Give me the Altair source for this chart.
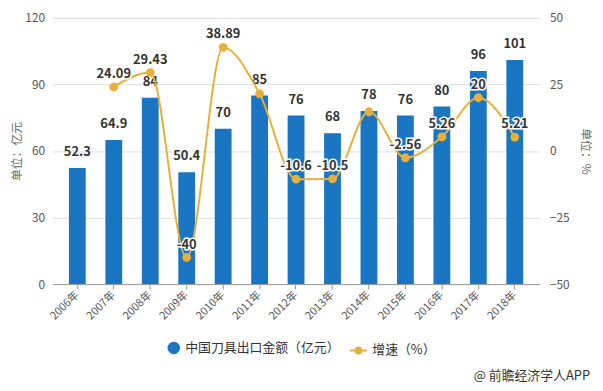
import altair as alt
import pandas as pd

years = ["2006年", "2007年", "2008年", "2009年", "2010年", "2011年", "2012年",
         "2013年", "2014年", "2015年", "2016年", "2017年", "2018年"]
export_value = [52.3, 64.9, 84, 50.4, 70, 85, 76, 68, 78, 76, 80, 96, 101]
bar_labels = ["52.3", "64.9", "84", "50.4", "70", "85", "76", "68", "78", "76", "80", "96", "101"]
growth = [None, 24.09, 29.43, -40, 38.89, 21.43, -10.6, -10.5, 14.71, -2.56, 5.26, 20, 5.21]
growth_labels = ["", "24.09", "29.43", "-40", "38.89", "", "-10.6", "-10.5", "", "-2.56", "5.26", "20", "5.21"]

BAR_NAME = "中国刀具出口金额（亿元）"
LINE_NAME = "增速（%）"
BLUE = "#1a75c2"
GOLD = "#e6b03a"
FONT = "Noto Sans CJK SC"

df = pd.DataFrame({
    "year": years,
    "value": export_value,
    "bar_label": bar_labels,
    "growth": growth,
    "growth_label": growth_labels,
})
df["bar_series"] = BAR_NAME
df["line_series"] = LINE_NAME

x_enc = alt.X("year:N", sort=years, title=None,
              scale=alt.Scale(paddingInner=0.54, paddingOuter=0.45),
              axis=alt.Axis(labelAngle=-45, labelAlign="right", labelBaseline="middle",
                            labelFontSize=11, labelColor="#555", labelPadding=4,
                            domainColor="#999", tickColor="#999", tickSize=5,
                            grid=False))

y_left = alt.Y("value:Q", title="单位：亿元",
               scale=alt.Scale(domain=[0, 120], nice=False),
               axis=alt.Axis(values=[0, 30, 60, 90, 120], domain=False, ticks=False,
                             labelPadding=8, labelFontSize=12, labelColor="#555",
                             titleColor="#666", titleFontSize=12, titleFontWeight="normal",
                             titlePadding=1, grid=True, gridColor="#dddddd"))

base = alt.Chart(df)

bars = base.mark_bar(width=17).encode(
    x=x_enc,
    y=y_left,
    color=alt.Color("bar_series:N", title=None,
                    scale=alt.Scale(domain=[BAR_NAME], range=[BLUE]),
                    legend=alt.Legend(orient="none", legendX=115, legendY=326,
                                      symbolType="circle", symbolSize=160,
                                      labelFontSize=13, labelColor="#333",
                                      labelFont=FONT, padding=0)),
)

bar_text = base.mark_text(dy=-9, fontSize=13, fontWeight="bold", color="#333",
                          font=FONT, baseline="bottom").encode(
    x=alt.X("year:N", sort=years),
    y=alt.Y("value:Q"),
    text="bar_label:N",
)

left = alt.layer(bars, bar_text)

y_right = alt.Y("growth:Q", title="单位：%",
                scale=alt.Scale(domain=[-50, 50], nice=False),
                axis=alt.Axis(orient="right", values=[-50, -25, 0, 25, 50], domain=False,
                              ticks=False, grid=False, labelPadding=10, labelFontSize=12,
                              labelColor="#555", titleColor="#666", titleFontSize=12,
                              titleFontWeight="normal", titlePadding=9))

line_data = base.transform_filter("datum.growth != null")

line = line_data.mark_line(interpolate="monotone", strokeWidth=2).encode(
    x=alt.X("year:N", sort=years),
    y=y_right,
    stroke=alt.Stroke("line_series:N", title=None,
                      scale=alt.Scale(domain=[LINE_NAME], range=[GOLD]),
                      legend=alt.Legend(orient="none", legendX=299, legendY=326,
                                        symbolType="M -1 0 L 1 0 M 0.35 0 A 0.35 0.35 0 1 1 -0.35 0 A 0.35 0.35 0 1 1 0.35 0 Z",
                                        symbolSize=300, symbolFillColor=GOLD,
                                        symbolStrokeWidth=2,
                                        labelFontSize=13, labelColor="#333",
                                        labelFont=FONT, padding=0)),
)

points = line_data.mark_point(filled=True, size=80, color=GOLD, opacity=1).encode(
    x=alt.X("year:N", sort=years),
    y=alt.Y("growth:Q"),
)

halo = line_data.mark_text(dy=-13, fontSize=13, fontWeight="bold", color="white",
                           stroke="white", strokeWidth=3, font=FONT).encode(
    x=alt.X("year:N", sort=years),
    y=alt.Y("growth:Q"),
    text="growth_label:N",
)
gtext = line_data.mark_text(dy=-13, fontSize=13, fontWeight="bold", color="#333",
                            font=FONT).encode(
    x=alt.X("year:N", sort=years),
    y=alt.Y("growth:Q"),
    text="growth_label:N",
)

right = alt.layer(line, points, halo, gtext)

credit = alt.Chart(pd.DataFrame({"t": ["@ 前瞻经济学人APP"]})).mark_text(
    align="right", baseline="middle", fontSize=13, color="#333", font=FONT
).encode(x=alt.value(543), y=alt.value(362), text="t:N")

chart = alt.layer(left, right, credit).resolve_scale(
    y="independent", color="independent", stroke="independent"
).properties(
    width=492, height=269,
    autosize=alt.AutoSizeParams(type="none"),
    padding={"left": 45, "top": 8, "right": 56, "bottom": 98},
).configure(font=FONT).configure_view(stroke=None)

chart.save("out.html", embed_options={"renderer": "svg", "actions": False})
